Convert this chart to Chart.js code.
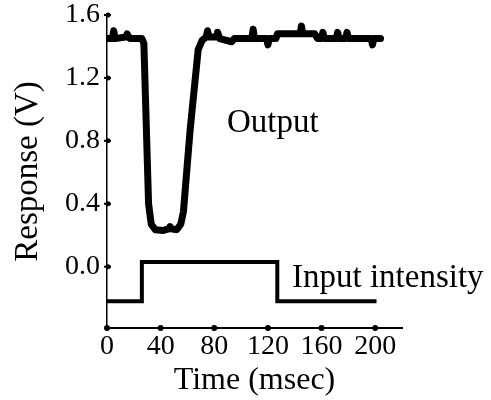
<!DOCTYPE html>
<html>
<head>
<meta charset="utf-8">
<title>Response</title>
<script src="https://cdn.jsdelivr.net/npm/chart.js@4.4.1/dist/chart.umd.min.js"></script>
<style>
  html, body { margin: 0; padding: 0; background: #fff; }
  .chart-container { width: 491px; height: 400px; }
</style>
</head>
<body>
<div class="chart-container">
  <canvas id="chart"></canvas>
</div>
<script>
// output trace (time in msec, response in V)
const outT = [0, 4, 5, 6, 14, 15, 17, 26, 27.5, 31, 33, 36, 42, 46, 47, 48, 52, 55, 57, 62, 68, 71, 74, 75, 76, 82, 82.5, 84, 93, 95,
  108, 109, 110, 119, 120, 121, 126, 127, 144, 145, 146, 155, 157, 160, 161, 162, 171, 172, 173, 178, 179, 180, 197, 198, 199, 204];
const outV = [1.45, 1.45, 1.50, 1.45, 1.46, 1.48, 1.45, 1.45, 1.42, 0.40, 0.27, 0.235, 0.23, 0.24, 0.255, 0.24, 0.235, 0.27, 0.35, 0.87, 1.38, 1.44, 1.46, 1.50, 1.46, 1.46, 1.49, 1.45, 1.43, 1.45,
  1.45, 1.51, 1.45, 1.45, 1.41, 1.45, 1.45, 1.48, 1.48, 1.53, 1.48, 1.48, 1.45, 1.45, 1.49, 1.45, 1.45, 1.49, 1.45, 1.45, 1.49, 1.45, 1.45, 1.41, 1.45, 1.45];

// input intensity step
const inT = [0, 26, 26, 127, 127, 201];
const inV = [-0.22, -0.22, 0.03, 0.03, -0.22, -0.22];

const xTicks = [0, 40, 80, 120, 160, 200];
const yTicks = [0.0, 0.4, 0.8, 1.2, 1.6];

const serif = '"Liberation Serif", "DejaVu Serif", serif';

// little dots on the axes + the two curve labels
const decor = {
  id: 'decor',
  afterDraw(chart) {
    const { ctx, scales: { x, y } } = chart;
    ctx.save();
    ctx.fillStyle = '#000';
    ctx.strokeStyle = '#000';
    ctx.lineWidth = 2;
    xTicks.forEach(v => {
      const px = x.getPixelForValue(v);
      ctx.beginPath();
      ctx.arc(px, y.bottom, 3, 0, Math.PI * 2);
      ctx.fill();
    });
    yTicks.forEach(v => {
      const py = y.getPixelForValue(v);
      ctx.beginPath();
      ctx.moveTo(x.left - 3, py);
      ctx.lineTo(x.left + 4, py);
      ctx.stroke();
      ctx.beginPath();
      ctx.arc(x.left + 1, py, 2.5, 0, Math.PI * 2);
      ctx.fill();
    });
    ctx.font = '33px ' + serif;
    ctx.textBaseline = 'alphabetic';
    ctx.fillText('Output', x.getPixelForValue(89.5), y.getPixelForValue(0.857));
    ctx.fillText('Input intensity', x.getPixelForValue(138), y.getPixelForValue(-0.127));
    ctx.restore();
  }
};

new Chart(document.getElementById('chart'), {
  type: 'line',
  data: {
    datasets: [
      {
        label: 'Output',
        data: outT.map((t, i) => ({ x: t, y: outV[i] })),
        borderColor: '#000',
        borderWidth: 7,
        borderJoinStyle: 'round',
        borderCapStyle: 'round',
        pointRadius: 0,
        tension: 0
      },
      {
        label: 'Input intensity',
        data: inT.map((t, i) => ({ x: t, y: inV[i] })),
        borderColor: '#000',
        borderWidth: 4,
        pointRadius: 0,
        tension: 0
      }
    ]
  },
  options: {
    responsive: true,
    maintainAspectRatio: false,
    animation: false,
    layout: { padding: { top: 15, right: 89, bottom: 0, left: 0 } },
    plugins: {
      legend: { display: false },
      tooltip: { enabled: false }
    },
    scales: {
      x: {
        type: 'linear',
        min: 0,
        max: 220,
        afterBuildTicks: s => { s.ticks = xTicks.map(v => ({ value: v })); },
        afterFit: s => { s.height = 72; s.paddingLeft = 0; s.paddingRight = 0; },
        grid: { display: false, drawTicks: false },
        border: { display: true, color: '#000', width: 2 },
        ticks: {
          color: '#000',
          padding: 2,
          maxRotation: 0,
          font: { family: serif, size: 28 }
        },
        title: {
          display: true,
          text: 'Time (msec)',
          color: '#000',
          font: { family: serif, size: 32 },
          padding: { top: 0, bottom: 0 }
        }
      },
      y: {
        type: 'linear',
        min: -0.39,
        max: 1.6,
        afterBuildTicks: s => { s.ticks = yTicks.map(v => ({ value: v })); },
        afterFit: s => { s.width = 107; s.paddingTop = 0; s.paddingBottom = 0; },
        grid: { display: false, drawTicks: false },
        border: { display: true, color: '#000', width: 1.5 },
        ticks: {
          color: '#000',
          padding: 7,
          font: { family: serif, size: 28 },
          callback: v => v.toFixed(1)
        },
        title: {
          display: true,
          text: 'Response (V)',
          color: '#000',
          font: { family: serif, size: 33 },
          padding: { top: 9, bottom: 0 }
        }
      }
    }
  },
  plugins: [decor]
});
</script>
</body>
</html>
